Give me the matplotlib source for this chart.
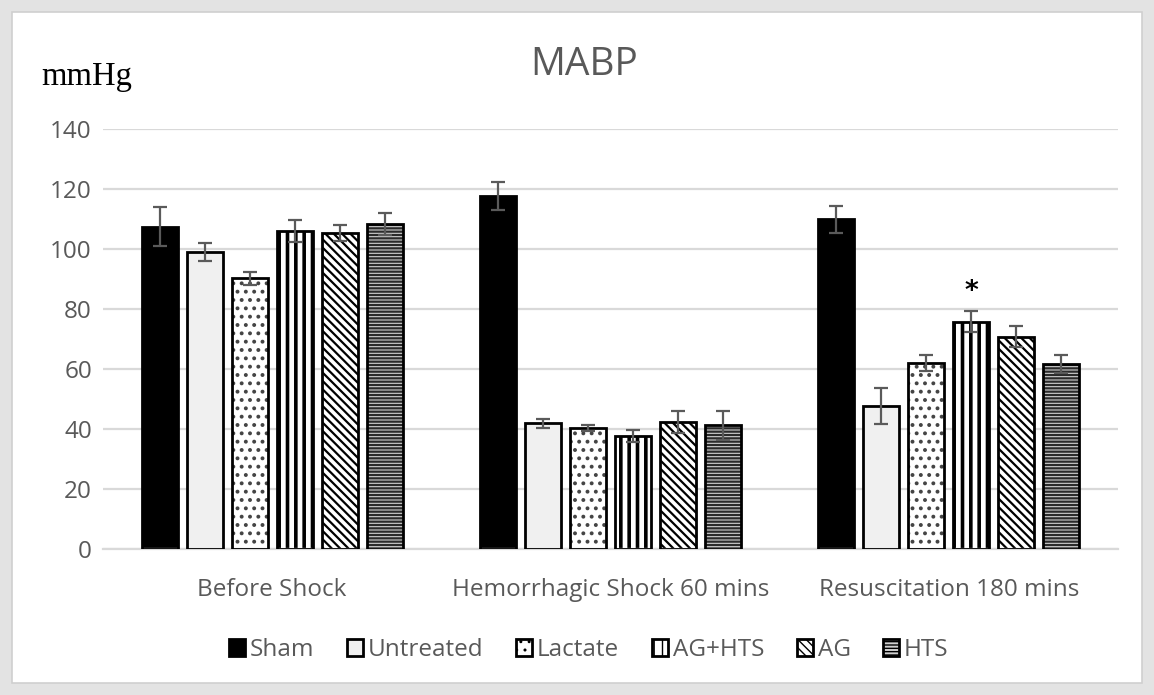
import matplotlib
matplotlib.use("Agg")
import matplotlib.pyplot as plt
import numpy as np
from matplotlib.patches import Rectangle, Patch

categories = ["Before Shock", "Hemorrhagic Shock 60 mins", "Resuscitation 180 mins"]
groups = ["Sham", "Untreated", "Lactate", "AG+HTS", "AG", "HTS"]
sham = [107.5, 117.7, 109.9]
untreated = [99.0, 42.0, 47.7]
lactate = [90.3, 40.4, 62.1]
ag_hts = [106.0, 37.8, 75.8]
ag = [105.3, 42.4, 70.8]
hts = [108.3, 41.3, 61.7]
sham_err = [6.5, 4.7, 4.6]
untreated_err = [3.0, 1.5, 5.9]
lactate_err = [2.2, 1.0, 2.7]
ag_hts_err = [3.8, 2.0, 3.6]
ag_err = [2.6, 3.7, 3.5]
hts_err = [3.7, 4.8, 3.1]
yticks = [0, 20, 40, 60, 80, 100, 120, 140]

values = [sham, untreated, lactate, ag_hts, ag, hts]
errors = [sham_err, untreated_err, lactate_err, ag_hts_err, ag_err, hts_err]
styles = [
    dict(face="black", hatch=None, hcolor="black", hlw=1.6),
    dict(face="#f0f0f0", hatch=None, hcolor="black", hlw=1.6),
    dict(face="white", hatch="..", hcolor="#444444", hlw=1.6),
    dict(face="white", hatch="||", hcolor="black", hlw=2.6),
    dict(face="white", hatch="\\\\\\\\", hcolor="black", hlw=1.6),
    dict(face="#d0d0d0", hatch="-----", hcolor="#2a2a2a", hlw=1.6),
]

plt.rcParams["font.family"] = ["Open Sans", "DejaVu Sans"]

W, H = 1154, 695
fig = plt.figure(figsize=(W / 100, H / 100), dpi=100, facecolor="#e3e3e3")
fig.patches.append(Rectangle((12 / W, 12 / H), (W - 24) / W, (H - 24) / H,
                             transform=fig.transFigure, facecolor="white",
                             edgecolor="#cfcfcf", lw=1.2, zorder=-5))

ax = fig.add_axes([103 / W, (H - 549) / H, (1118 - 103) / W, 420 / H])
ax.set_facecolor("none")
x = np.arange(len(categories))
bw = 0.106
step = 0.133
for i, (vals, errs, st) in enumerate(zip(values, errors, styles)):
    pos = x + (i - 2.5) * step
    with plt.rc_context({"hatch.linewidth": st["hlw"]}):
        ax.bar(pos, vals, width=bw, color=st["face"], edgecolor=st["hcolor"],
               hatch=st["hatch"], linewidth=0, zorder=2)
    ax.bar(pos, vals, width=bw, color="none", edgecolor="black",
           linewidth=2.0, zorder=3)
    ax.errorbar(pos, vals, yerr=errs, fmt="none", ecolor="#5a5a5a",
                elinewidth=1.6, capsize=5, capthick=1.6, zorder=4)

# significance marker on AG+HTS, Resuscitation
star_pos = x[2] + (3 - 2.5) * step
ax.text(star_pos, ag_hts[2] + ag_hts_err[2] + 2.0, "*", ha="center",
        va="bottom", fontsize=19, color="black", family="DejaVu Sans",
        fontweight="bold")

ax.set_ylim(0, 140)
ax.set_xlim(-0.5, 2.5)
ax.set_yticks(yticks)
ax.set_xticks(x)
ax.set_xticklabels(categories)
ax.tick_params(axis="both", length=0, labelsize=17.5, colors="#595959")
ax.tick_params(axis="x", pad=21)
ax.tick_params(axis="y", pad=8)
ax.grid(axis="y", color="#d9d9d9", lw=1.6, zorder=0)
for s in ["top", "right", "left"]:
    ax.spines[s].set_visible(False)
ax.spines["bottom"].set_color("#d9d9d9")
ax.spines["bottom"].set_linewidth(1.6)

fig.text(584 / W, 1 - 65 / H, "MABP", ha="center", va="center",
         fontsize=28, color="#595959")
fig.text(41 / W, 1 - 77 / H, "mmHg", ha="left", va="center",
         fontsize=23.5, color="black", family=["Liberation Serif", "DejaVu Serif"])

handles = []
for st in styles:
    with plt.rc_context({"hatch.linewidth": min(st["hlw"], 2.0)}):
        handles.append(Patch(facecolor=st["face"], edgecolor="black",
                             hatch=st["hatch"], linewidth=2.0))
leg = fig.legend(handles, groups, loc="center", bbox_to_anchor=(589 / W, 1 - 650 / H),
                 ncol=6, frameon=False, fontsize=17.5, handlelength=0.65,
                 handleheight=0.65, handletextpad=0.2, columnspacing=1.35)
for t in leg.get_texts():
    t.set_color("#595959")

fig.savefig("out.png", dpi=100, facecolor=fig.get_facecolor())
